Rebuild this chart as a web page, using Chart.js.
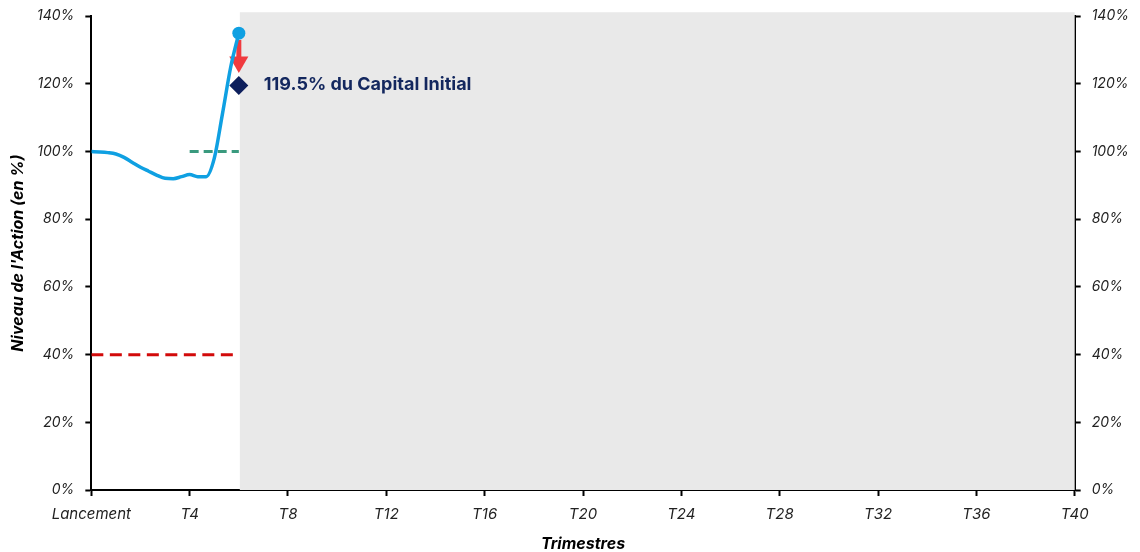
<!DOCTYPE html>
<html>
<head>
<meta charset="utf-8">
<script src="https://cdn.jsdelivr.net/npm/chart.js@4/dist/chart.umd.min.js"></script>
<style>
  html, body { margin: 0; padding: 0; background: #fff; }
  #wrap { width: 1140px; height: 552px; }
</style>
</head>
<body>
<div id="wrap"><canvas id="chart"></canvas></div>
<script>
// Data (x in quarters, y in % of initial level)
const quarters = [0, 0.33, 0.67, 1, 1.33, 1.67, 2, 2.33, 2.67, 3, 3.33, 3.67, 4, 4.33, 4.67, 5, 5.33, 5.67, 6];
const niveauAction = [100, 99.9, 99.7, 99.3, 98.3, 96.8, 95.4, 94.2, 93.0, 92.1, 92.0, 92.6, 93.2, 92.6, 92.6, 98, 111, 125, 135];
const barriereX = [0, 6];
const barriereNiveau = [40, 40];
const rappelX = [4, 6];
const rappelNiveau = [100, 100];
const flecheX = [6, 6];
const flecheNiveau = [133, 126.5];
const finalX = 6;
const finalNiveau = 119.5;
const finalLabel = '119.5% du Capital Initial';
const xTickLabels = ['Lancement', 'T4', 'T8', 'T12', 'T16', 'T20', 'T24', 'T28', 'T32', 'T36', 'T40'];
const yTicks = [0, 20, 40, 60, 80, 100, 120, 140];
const periodeEcoulee = 6;

const FONT = "'Inter', 'Noto Sans', sans-serif";

function pts(xs, ys) {
    return xs.map((x, i) => ({x: x, y: ys[i]}));
}

// grey zone after the last observation, plus the final label
const zonePlugin = {
    id: 'zone',
    beforeDatasetsDraw(chart) {
        const {ctx, chartArea, scales} = chart;
        const x0 = scales.x.getPixelForValue(periodeEcoulee) + 1;
        ctx.save();
        ctx.fillStyle = '#e9e9e9';
        ctx.fillRect(x0, chartArea.top - 4, chartArea.right - x0, chartArea.bottom - chartArea.top + 4);
        ctx.restore();
    },
    afterDatasetsDraw(chart) {
        const {ctx, scales} = chart;
        ctx.save();
        ctx.font = "bold 18px " + FONT;
        ctx.fillStyle = '#13275e';
        ctx.textBaseline = 'middle';
        ctx.fillText(finalLabel, scales.x.getPixelForValue(finalX) + 25, scales.y.getPixelForValue(finalNiveau) - 1);
        ctx.restore();
    }
};

const tickFont = {family: FONT, size: 15, style: 'italic'};
const yTickFont = {family: FONT, size: 14, style: 'italic', lineHeight: 0.75};
const titleFont = {family: FONT, size: 16, style: 'italic', weight: 'bold', lineHeight: 1};

function yAxis(position) {
    return {
        type: 'linear',
        position: position,
        min: 0,
        max: 140,
        afterBuildTicks: (axis) => { axis.ticks = yTicks.map(v => ({value: v})); },
        ticks: {
            callback: (v) => v + '%',
            font: yTickFont,
            color: '#222',
            padding: 11
        },
        grid: {display: true, drawOnChartArea: false, tickLength: 6, tickColor: '#000', tickWidth: 2},
        border: {color: '#000', width: 2},
        title: position === 'left' ? {
            display: true,
            text: "Niveau de l'Action (en %)",
            font: titleFont,
            color: '#000',
            padding: {top: 0, bottom: 0}
        } : {display: false}
    };
}

new Chart(document.getElementById('chart').getContext('2d'), {
    type: 'line',
    data: {
        datasets: [{
            label: 'Niveau',
            data: pts(quarters, niveauAction),
            borderColor: '#0fa0e2',
            backgroundColor: '#0fa0e2',
            borderWidth: 3.5,
            cubicInterpolationMode: 'monotone',
            pointRadius: quarters.map((q, i) => i === quarters.length - 1 ? 6.5 : 0),
            pointBorderWidth: 0,
            order: 1
        }, {
            label: 'Barriere',
            data: pts(barriereX, barriereNiveau),
            borderColor: '#d20a0a',
            borderWidth: 3,
            borderDash: [12, 6.5],
            pointRadius: 0,
            order: 3
        }, {
            label: 'Rappel',
            data: pts(rappelX, rappelNiveau),
            borderColor: '#3a9a7e',
            borderWidth: 3,
            borderDash: [9, 5],
            pointRadius: 0,
            order: 3
        }, {
            label: 'Fleche',
            data: pts(flecheX, flecheNiveau),
            borderColor: '#f03a3f',
            backgroundColor: '#f03a3f',
            borderWidth: 5,
            pointStyle: 'triangle',
            pointRotation: 180,
            pointRadius: [0, 11],
            pointBorderWidth: 0,
            order: 2
        }, {
            label: 'Final',
            data: [{x: finalX, y: finalNiveau}],
            showLine: false,
            pointStyle: 'rectRot',
            pointRadius: 9.5,
            pointBorderWidth: 0,
            backgroundColor: '#0d1f5c',
            borderColor: '#0d1f5c',
            order: 0
        }]
    },
    options: {
        responsive: true,
        maintainAspectRatio: false,
        animation: false,
        layout: {padding: {left: 10, right: 0, top: 1, bottom: 0}},
        plugins: {
            legend: {display: false},
            tooltip: {enabled: false}
        },
        scales: {
            x: {
                type: 'linear',
                min: 0,
                max: 40,
                afterBuildTicks: (axis) => { axis.ticks = xTickLabels.map((t, i) => ({value: i * 4})); },
                ticks: {
                    callback: (v) => xTickLabels[v / 4],
                    font: tickFont,
                    color: '#222',
                    maxRotation: 0,
                    autoSkip: false,
                    padding: 9
                },
                grid: {display: true, drawOnChartArea: false, tickLength: 6, tickColor: '#000', tickWidth: 2},
                border: {color: '#000', width: 2},
                title: {
                    display: true,
                    text: 'Trimestres',
                    font: titleFont,
                    color: '#000',
                    padding: {top: 4, bottom: 0}
                }
            },
            y: yAxis('left'),
            y2: yAxis('right')
        }
    },
    plugins: [zonePlugin]
});
</script>
</body>
</html>
